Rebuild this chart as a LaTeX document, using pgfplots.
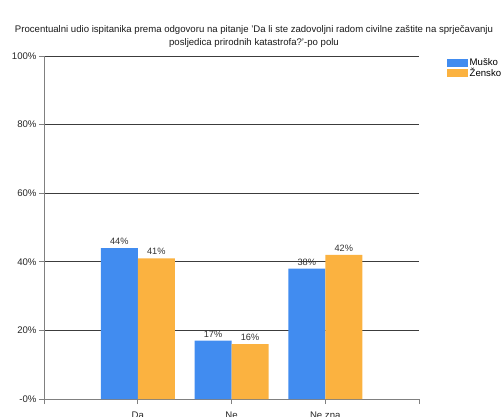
\documentclass[border=0pt]{standalone}
\usepackage{pgfplots}
\pgfplotsset{compat=1.18}
\usepackage{fontspec}
\setmainfont{Liberation Sans}
\definecolor{mblue}{RGB}{65,140,240}
\definecolor{morange}{RGB}{251,178,64}
\definecolor{gridc}{RGB}{60,60,60}
\begin{document}
\begin{tikzpicture}
\begin{axis}[
  at={(0pt,0pt)}, anchor=origin,
  scale only axis, width=375pt, height=343pt,
  xmin=0, xmax=4, ymin=0, ymax=100,
  xtick={0,1,2,3,4}, xticklabels={,Da,Ne,Ne zna,},
  ytick={0,20,40,60,80,100},
  yticklabels={-0\%,20\%,40\%,60\%,80\%,100\%},
  tick label style={font=\fontsize{9.6}{11}\selectfont, text=black!85},
  yticklabel style={xshift=1pt},
  xticklabel style={yshift=-4pt},
  /pgf/number format/assume math mode=true,
  ymajorgrids, grid style={gridc, line width=0.7pt},
  axis x line*=bottom, axis y line*=left,
  axis line style={gray, line width=0.7pt},
  x axis line style={-}, y axis line style={-},
  tick style={gray, line width=0.7pt},
  tick align=outside, major tick length=5pt,
  ybar=0pt, bar width=37pt,
  nodes near coords={\pgfmathprintnumber{\pgfplotspointmeta}\%},
  nodes near coords style={font=\fontsize{9.2}{10}\selectfont, text=black!80, yshift=0pt},
  legend style={at={(1,1)}, anchor=north west, xshift=28pt, yshift=-1pt, draw=none, fill=none, font=\fontsize{9.6}{11}\selectfont, row sep=-2.5pt, inner sep=0pt, nodes={inner sep=1.5pt}},
  legend cell align=left,
  legend image code/.code={\fill[#1] (0pt,-4pt) rectangle (21pt,4pt);},
]
\addplot[fill=mblue, draw=none] coordinates {(1,44) (2,17) (3,38)};
\addplot[fill=morange, draw=none] coordinates {(1,41) (2,16) (3,42)};
\legend{Muško,Žensko}
\end{axis}
\node[align=center,font=\fontsize{9.6}{12.6}\selectfont, text=black!90] at (210pt,362.5pt) {Procentualni udio ispitanika prema odgovoru na pitanje 'Da li ste zadovoljni radom civilne zaštite na sprječavanju\\posljedica prirodnih katastrofa?'-po polu};
\pgfresetboundingbox
\clip (-44pt,-17pt) rectangle (459pt,399pt);
\path[use as bounding box] (-44pt,-17pt) rectangle (459pt,399pt);
\end{tikzpicture}
\end{document}
